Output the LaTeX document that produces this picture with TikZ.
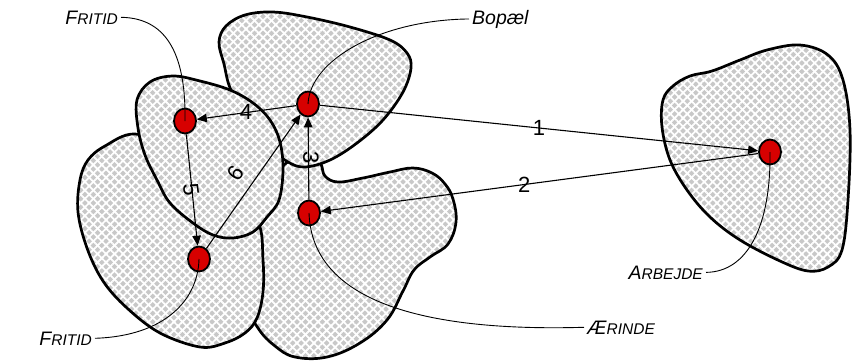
\documentclass[tikz,border=0pt]{standalone}
\usepackage{fontspec}
\setmainfont{Liberation Sans}
\usetikzlibrary{arrows.meta,patterns.meta,shapes.geometric}
\definecolor{hatchgray}{RGB}{200,200,200}
\definecolor{dotred}{RGB}{215,0,0}
\newcommand{\mysc}[2]{#1{\fontsize{15.5}{18}\selectfont #2}}
\tikzset{
  blob/.style={draw=black, line width=2.7pt, line join=round,
    preaction={fill=hatchgray},
    preaction={pattern={Lines[angle=45,distance=6pt,line width=1.8pt]}, pattern color=white},
    preaction={pattern={Lines[angle=-45,distance=6pt,line width=1.8pt]}, pattern color=white}},
  place/.style={ellipse, draw=black, line width=1.8pt, fill=dotred,
    minimum width=22pt, minimum height=25pt, inner sep=0pt},
  leader/.style={line width=0.9pt},
  conn/.style={line width=1.1pt, -{Triangle[length=10pt,width=8.5pt]}},
  lbl/.style={font=\fontsize{19.5}{22}\selectfont\itshape, inner sep=3pt},
  num/.style={font=\fontsize{22}{24}\selectfont, inner sep=0pt}
}
\begin{document}
\begin{tikzpicture}[x=1pt,y=-1pt]
\useasboundingbox (0,0) rectangle (855,360);
% blobs
\path[blob] plot[smooth cycle, tension=0.65] coordinates {
  (258,328) (275,346) (295,357) (327,357) (360,343) (387,320) (403,291)
  (414,270) (430,257) (448,244) (456,222) (453,199) (445,184) (432,173)
  (413,168) (390,172) (363,178) (338,182) (325,176) (321,164) (312,148)
  (272,178) (245,240) (245,300)};
\path[blob] plot[smooth cycle, tension=0.6] coordinates {
  (80,180) (88,160) (105,146) (135,134) (175,150) (230,195) (258,222)
  (263,260) (263,292) (257,318) (245,333) (225,343) (200,347) (160,333)
  (127,308) (103,281) (87,248) (78,212)};
\path[blob] plot[smooth cycle, tension=0.6] coordinates {
  (663,100) (673,86) (690,76) (712,71) (740,60) (767,50) (800,45) (828,55)
  (843,80) (850,130) (848,200) (842,250) (828,267) (808,271) (780,261)
  (740,240) (710,217) (687,190) (670,160) (662,127)};
\path[blob] plot[smooth cycle, tension=0.6] coordinates {
  (219,42) (226,26) (245,15) (273,12) (307,17) (350,27) (390,40) (407,53)
  (411,68) (403,92) (383,120) (357,143) (330,160) (305,167) (288,162)
  (272,148) (255,120) (232,92) (224,64)};
\path[blob] plot[smooth cycle, tension=0.6] coordinates {
  (137,100) (150,82) (173,76) (200,81) (230,90) (253,103) (270,120)
  (280,142) (283,170) (279,200) (267,217) (253,232) (233,238) (213,235)
  (193,223) (170,203) (157,180) (145,155) (138,128)};
% places
\node[place] (f1) at (185,121) {};
\node[place] (b)  at (308,104) {};
\node[place] (e)  at (309,213) {};
\node[place] (f2) at (199,259) {};
\node[place] (a)  at (770,152) {};
% connectors
\draw[conn] (b) -- (a) node[num, pos=0.5] (n1) {1};
\draw[conn] (a) -- (e) node[num, pos=0.535] (n2) {2};
\draw[conn] (e) -- (b);
\draw[conn] (b) -- (f1);
\draw[conn] (f1) -- (f2);
\draw[conn] (f2) -- (b);
\node[num, rotate=-90] (n3) at (311,158) {3};
\node[num] (n4) at (246,112) {4};
\node[num, rotate=-83] (n5) at (191,190) {5};
\node[num, rotate=56] (n6) at (236,173) {6};
% labels
\node[lbl, anchor=base east] (lf1) at (121,24) {\mysc{F}{RITID}};
\node[lbl, anchor=base west] (lb) at (469,24) {Bopæl};
\node[lbl, anchor=base west] (le) at (584,334) {\mysc{Æ}{RINDE}};
\node[lbl, anchor=base east] (la) at (706,279) {\mysc{A}{RBEJDE}};
\node[lbl, anchor=base east] (lf2) at (95,345) {\mysc{F}{RITID}};
% leaders
\draw[leader] (lf1.east) .. controls (170,18) and (186,60) .. (f1.center);
\draw[leader] (lb.west) .. controls (380,20) and (310,60) .. (b.center);
\draw[leader] (le.west) .. controls (420,332) and (312,300) .. (e.center);
\draw[leader] (la.east) .. controls (748,272) and (771,225) .. (a.center);
\draw[leader] (lf2.east) .. controls (165,336) and (198,300) .. (f2.center);
\end{tikzpicture}
\end{document}
